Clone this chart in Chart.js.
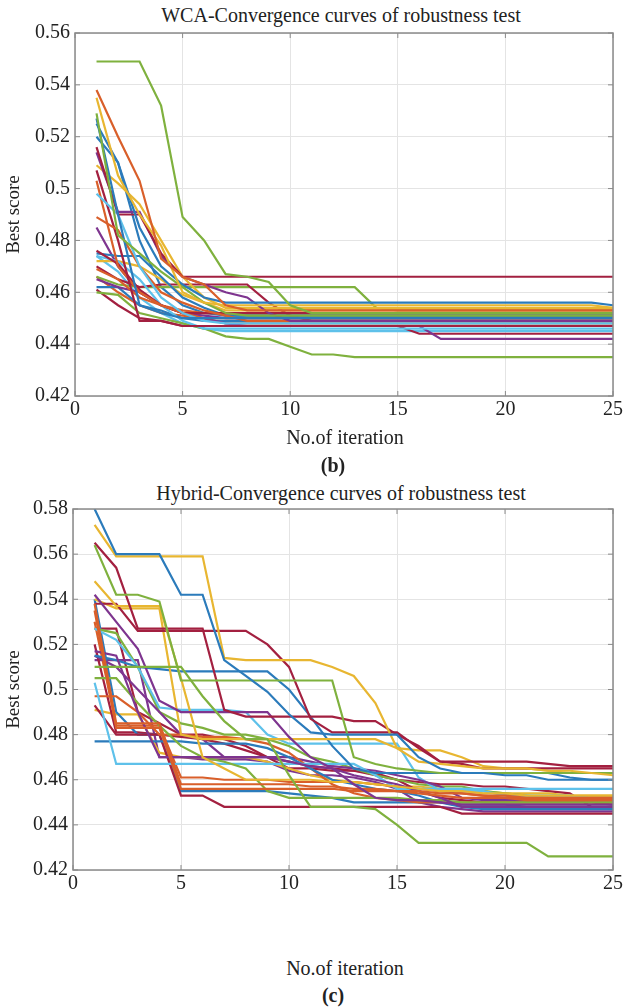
<!DOCTYPE html>
<html>
<head>
<meta charset="utf-8">
<script src="https://cdn.jsdelivr.net/npm/chart.js@4.4.1/dist/chart.umd.min.js"></script>
<style>
  html, body { margin: 0; padding: 0; background: #ffffff; }
  #page { position: relative; width: 625px; height: 1007px; background: #ffffff; overflow: hidden; }
  canvas { position: absolute; left: 0; }
  .lbl { position: absolute; font-family: "Liberation Serif", "Times New Roman", serif; color: #222; white-space: nowrap; transform: translate(-50%, -50%); font-size: 20px; }
  .bold { font-weight: bold; }
</style>
</head>
<body>
<div id="page">
  <div class="lbl" style="left:341px; top:15px;">WCA-Convergence curves of robustness test</div>
  <canvas id="wca" width="625" height="432" style="top:0px;"></canvas>
  <div class="lbl" style="left:345px; top:437px;">No.of iteration</div>
  <div class="lbl bold" style="left:333px; top:465px;">(b)</div>

  <div class="lbl" style="left:341px; top:493px;">Hybrid-Convergence curves of robustness test</div>
  <canvas id="hybrid" width="625" height="432" style="top:476px;"></canvas>
  <div class="lbl" style="left:345px; top:968px;">No.of iteration</div>
  <div class="lbl bold" style="left:333px; top:995px;">(c)</div>
</div>
<script>
// ---------------- DATA ----------------
const iterations = [1,2,3,4,5,6,7,8,9,10,11,12,13,14,15,16,17,18,19,20,21,22,23,24,25];
const xTickLabels = ['0','5','10','15','20','25'];
const wcaYTickLabels = ['0.42','0.44','0.46','0.48','0.5','0.52','0.54','0.56'];
const hybridYTickLabels = ['0.42','0.44','0.46','0.48','0.5','0.52','0.54','0.56','0.58'];

const wcaCurves = [
  [0.549,0.549,0.549,0.532,0.489,0.480,0.467,0.466,0.464,0.455,0.452,0.452,0.452,0.452,0.452,0.452,0.452,0.452,0.452,0.452,0.452,0.452,0.452,0.452,0.452],
  [0.538,0.520,0.503,0.473,0.466,0.463,0.455,0.453,0.453,0.453,0.453,0.453,0.453,0.453,0.453,0.453,0.453,0.453,0.453,0.453,0.453,0.453,0.453,0.453,0.453],
  [0.535,0.505,0.490,0.478,0.460,0.456,0.455,0.455,0.455,0.455,0.455,0.455,0.455,0.455,0.455,0.455,0.455,0.455,0.455,0.455,0.455,0.455,0.455,0.455,0.454],
  [0.529,0.482,0.475,0.468,0.462,0.456,0.452,0.451,0.451,0.451,0.451,0.451,0.451,0.451,0.451,0.451,0.451,0.451,0.451,0.451,0.451,0.451,0.451,0.451,0.451],
  [0.527,0.490,0.455,0.452,0.450,0.450,0.450,0.450,0.450,0.450,0.450,0.450,0.450,0.450,0.450,0.450,0.450,0.450,0.450,0.450,0.450,0.450,0.450,0.450,0.450],
  [0.525,0.510,0.485,0.470,0.463,0.458,0.456,0.456,0.456,0.456,0.456,0.456,0.456,0.456,0.456,0.456,0.456,0.456,0.456,0.456,0.456,0.456,0.456,0.456,0.455],
  [0.516,0.490,0.490,0.475,0.466,0.466,0.466,0.466,0.466,0.466,0.466,0.466,0.466,0.466,0.466,0.466,0.466,0.466,0.466,0.466,0.466,0.466,0.466,0.466,0.466],
  [0.514,0.491,0.491,0.474,0.466,0.463,0.460,0.458,0.452,0.449,0.449,0.449,0.449,0.449,0.449,0.449,0.449,0.449,0.449,0.449,0.449,0.449,0.449,0.449,0.449],
  [0.498,0.490,0.470,0.458,0.452,0.449,0.448,0.448,0.448,0.448,0.448,0.448,0.448,0.448,0.448,0.448,0.448,0.448,0.448,0.448,0.448,0.448,0.448,0.448,0.448],
  [0.489,0.484,0.470,0.460,0.456,0.453,0.451,0.449,0.449,0.449,0.449,0.449,0.449,0.449,0.449,0.449,0.449,0.449,0.449,0.449,0.449,0.449,0.449,0.449,0.449],
  [0.509,0.502,0.494,0.480,0.466,0.458,0.454,0.454,0.454,0.454,0.454,0.454,0.454,0.454,0.454,0.454,0.454,0.454,0.454,0.454,0.454,0.454,0.454,0.454,0.454],
  [0.507,0.480,0.449,0.449,0.447,0.447,0.447,0.447,0.447,0.447,0.447,0.447,0.447,0.447,0.447,0.447,0.447,0.447,0.447,0.447,0.447,0.447,0.447,0.447,0.447],
  [0.503,0.470,0.460,0.455,0.452,0.450,0.450,0.450,0.450,0.450,0.450,0.450,0.450,0.450,0.450,0.450,0.450,0.450,0.450,0.450,0.450,0.450,0.450,0.450,0.450],
  [0.476,0.471,0.461,0.455,0.452,0.452,0.452,0.452,0.452,0.452,0.452,0.452,0.452,0.452,0.452,0.452,0.452,0.452,0.452,0.452,0.452,0.452,0.452,0.452,0.452],
  [0.475,0.474,0.474,0.466,0.458,0.454,0.451,0.451,0.451,0.451,0.451,0.451,0.451,0.451,0.451,0.451,0.451,0.451,0.451,0.451,0.451,0.451,0.451,0.451,0.451],
  [0.474,0.472,0.465,0.455,0.449,0.446,0.446,0.446,0.446,0.446,0.446,0.446,0.446,0.446,0.446,0.446,0.446,0.446,0.446,0.446,0.446,0.446,0.446,0.446,0.446],
  [0.472,0.472,0.470,0.465,0.459,0.456,0.453,0.453,0.453,0.453,0.453,0.453,0.453,0.453,0.453,0.453,0.453,0.453,0.453,0.453,0.453,0.453,0.453,0.453,0.453],
  [0.469,0.465,0.458,0.455,0.453,0.452,0.452,0.452,0.452,0.452,0.452,0.452,0.452,0.452,0.452,0.452,0.452,0.452,0.452,0.452,0.452,0.452,0.452,0.452,0.452],
  [0.465,0.462,0.460,0.455,0.452,0.450,0.448,0.447,0.447,0.447,0.447,0.447,0.447,0.447,0.447,0.447,0.442,0.442,0.442,0.442,0.442,0.442,0.442,0.442,0.442],
  [0.462,0.462,0.455,0.453,0.450,0.449,0.449,0.449,0.449,0.449,0.449,0.449,0.449,0.449,0.449,0.449,0.449,0.449,0.449,0.449,0.449,0.449,0.449,0.449,0.449],
  [0.460,0.459,0.452,0.450,0.448,0.446,0.443,0.442,0.442,0.439,0.436,0.436,0.435,0.435,0.435,0.435,0.435,0.435,0.435,0.435,0.435,0.435,0.435,0.435,0.435],
  [0.461,0.455,0.450,0.449,0.447,0.447,0.447,0.447,0.447,0.447,0.447,0.447,0.447,0.447,0.447,0.444,0.444,0.444,0.444,0.444,0.444,0.444,0.444,0.444,0.444],
  [0.470,0.465,0.462,0.463,0.463,0.463,0.463,0.463,0.456,0.451,0.449,0.449,0.449,0.449,0.449,0.449,0.449,0.449,0.449,0.449,0.449,0.449,0.449,0.449,0.449],
  [0.466,0.463,0.462,0.462,0.462,0.462,0.462,0.462,0.462,0.462,0.462,0.462,0.462,0.454,0.453,0.453,0.453,0.453,0.453,0.453,0.453,0.453,0.453,0.453,0.453],
  [0.466,0.460,0.455,0.452,0.451,0.450,0.448,0.448,0.448,0.448,0.448,0.448,0.448,0.448,0.448,0.448,0.448,0.448,0.448,0.448,0.448,0.448,0.448,0.448,0.448],
  [0.520,0.510,0.480,0.462,0.455,0.452,0.451,0.451,0.451,0.451,0.451,0.451,0.451,0.451,0.451,0.451,0.451,0.451,0.451,0.451,0.451,0.451,0.451,0.451,0.451],
  [0.485,0.470,0.460,0.455,0.452,0.451,0.450,0.450,0.450,0.450,0.450,0.450,0.450,0.450,0.450,0.450,0.450,0.450,0.450,0.450,0.450,0.450,0.450,0.450,0.450],
  [0.474,0.468,0.458,0.452,0.448,0.446,0.445,0.445,0.445,0.445,0.445,0.445,0.445,0.445,0.445,0.445,0.445,0.445,0.445,0.445,0.445,0.445,0.445,0.445,0.445]
];
const wcaColors = ['g','o','y','g','b','b','r','p','c','o','y','r','o','r','b','c','y','o','p','b','g','r','r','g','o','b','p','c'];

const hybridCurves = [
  [0.580,0.560,0.560,0.560,0.542,0.542,0.513,0.506,0.499,0.489,0.481,0.480,0.480,0.480,0.480,0.470,0.465,0.463,0.463,0.462,0.462,0.460,0.460,0.460,0.460],
  [0.573,0.559,0.559,0.559,0.559,0.559,0.514,0.513,0.513,0.513,0.513,0.510,0.506,0.494,0.474,0.468,0.467,0.466,0.465,0.465,0.465,0.464,0.464,0.463,0.462],
  [0.564,0.542,0.542,0.539,0.504,0.504,0.504,0.504,0.504,0.504,0.504,0.504,0.470,0.467,0.465,0.464,0.463,0.463,0.463,0.463,0.463,0.463,0.463,0.463,0.463],
  [0.565,0.554,0.527,0.527,0.527,0.527,0.491,0.488,0.488,0.488,0.488,0.488,0.486,0.486,0.480,0.475,0.468,0.468,0.468,0.468,0.468,0.467,0.466,0.466,0.466],
  [0.510,0.510,0.510,0.510,0.510,0.497,0.486,0.478,0.478,0.462,0.448,0.448,0.448,0.447,0.440,0.432,0.432,0.432,0.432,0.432,0.432,0.426,0.426,0.426,0.426],
  [0.542,0.530,0.518,0.495,0.490,0.490,0.490,0.490,0.490,0.479,0.470,0.465,0.458,0.452,0.451,0.451,0.450,0.449,0.449,0.449,0.449,0.449,0.449,0.449,0.449],
  [0.538,0.485,0.485,0.485,0.458,0.458,0.458,0.458,0.458,0.458,0.457,0.457,0.456,0.456,0.455,0.454,0.453,0.452,0.452,0.452,0.451,0.451,0.451,0.451,0.451],
  [0.535,0.483,0.483,0.483,0.456,0.456,0.456,0.456,0.456,0.456,0.456,0.456,0.455,0.455,0.455,0.455,0.454,0.454,0.453,0.453,0.452,0.452,0.452,0.452,0.452],
  [0.548,0.537,0.537,0.537,0.505,0.470,0.465,0.460,0.460,0.460,0.460,0.459,0.459,0.458,0.457,0.456,0.455,0.455,0.454,0.454,0.453,0.453,0.453,0.453,0.453],
  [0.538,0.538,0.526,0.526,0.526,0.526,0.526,0.526,0.520,0.510,0.487,0.481,0.481,0.481,0.481,0.474,0.468,0.467,0.465,0.465,0.465,0.465,0.465,0.465,0.465],
  [0.540,0.536,0.536,0.536,0.480,0.478,0.478,0.478,0.478,0.478,0.478,0.478,0.478,0.478,0.474,0.473,0.473,0.470,0.466,0.465,0.465,0.464,0.463,0.463,0.463],
  [0.517,0.515,0.490,0.470,0.470,0.470,0.470,0.470,0.470,0.468,0.466,0.465,0.462,0.460,0.458,0.455,0.452,0.448,0.448,0.448,0.448,0.448,0.448,0.448,0.448],
  [0.515,0.513,0.510,0.509,0.508,0.508,0.508,0.508,0.508,0.500,0.488,0.475,0.465,0.463,0.463,0.463,0.463,0.463,0.463,0.463,0.463,0.463,0.461,0.460,0.460],
  [0.505,0.505,0.494,0.484,0.475,0.470,0.468,0.465,0.455,0.452,0.452,0.452,0.452,0.452,0.452,0.451,0.451,0.450,0.450,0.450,0.450,0.450,0.450,0.450,0.450],
  [0.503,0.467,0.467,0.467,0.467,0.467,0.467,0.467,0.467,0.467,0.467,0.467,0.467,0.462,0.456,0.456,0.456,0.456,0.456,0.456,0.456,0.456,0.456,0.456,0.456],
  [0.477,0.477,0.477,0.477,0.477,0.476,0.476,0.476,0.474,0.470,0.465,0.460,0.458,0.456,0.455,0.453,0.450,0.448,0.447,0.447,0.447,0.447,0.447,0.447,0.447],
  [0.497,0.497,0.490,0.480,0.480,0.479,0.479,0.478,0.476,0.472,0.465,0.458,0.454,0.452,0.451,0.450,0.450,0.450,0.450,0.450,0.450,0.450,0.450,0.450,0.450],
  [0.493,0.480,0.480,0.480,0.453,0.453,0.448,0.448,0.448,0.448,0.448,0.448,0.448,0.448,0.448,0.448,0.448,0.445,0.445,0.445,0.445,0.445,0.445,0.445,0.445],
  [0.515,0.510,0.500,0.490,0.480,0.478,0.470,0.470,0.470,0.470,0.468,0.466,0.465,0.464,0.462,0.460,0.457,0.452,0.451,0.451,0.451,0.451,0.451,0.451,0.451],
  [0.527,0.522,0.510,0.492,0.491,0.491,0.491,0.490,0.480,0.476,0.476,0.476,0.476,0.476,0.476,0.461,0.455,0.455,0.455,0.453,0.453,0.453,0.453,0.452,0.452],
  [0.530,0.484,0.484,0.484,0.461,0.461,0.460,0.460,0.460,0.459,0.459,0.459,0.459,0.458,0.457,0.456,0.455,0.454,0.453,0.452,0.452,0.452,0.452,0.452,0.452],
  [0.527,0.525,0.510,0.490,0.485,0.483,0.480,0.480,0.478,0.475,0.470,0.468,0.465,0.462,0.460,0.458,0.457,0.457,0.455,0.454,0.453,0.452,0.451,0.451,0.451],
  [0.540,0.490,0.480,0.480,0.455,0.455,0.455,0.455,0.455,0.454,0.453,0.452,0.450,0.450,0.450,0.450,0.450,0.449,0.449,0.449,0.448,0.448,0.448,0.448,0.448],
  [0.520,0.481,0.481,0.480,0.479,0.478,0.476,0.473,0.470,0.468,0.466,0.465,0.464,0.463,0.460,0.455,0.452,0.451,0.450,0.450,0.450,0.450,0.450,0.450,0.449],
  [0.491,0.489,0.489,0.472,0.470,0.470,0.470,0.470,0.468,0.465,0.462,0.460,0.459,0.458,0.457,0.457,0.456,0.455,0.455,0.454,0.454,0.454,0.453,0.453,0.453],
  [0.513,0.513,0.513,0.470,0.470,0.469,0.469,0.469,0.468,0.464,0.462,0.462,0.461,0.459,0.456,0.450,0.448,0.447,0.446,0.446,0.446,0.446,0.446,0.446,0.446],
  [0.527,0.527,0.490,0.485,0.480,0.480,0.478,0.475,0.470,0.465,0.465,0.464,0.464,0.462,0.460,0.459,0.458,0.458,0.457,0.457,0.456,0.455,0.454,0.448,0.447]
];
const hybridColors = ['b','y','g','r','g','p','o','o','y','r','y','p','b','g','c','b','o','r','p','c','o','g','b','r','y','p','r'];

// ---------------- STYLE ----------------
const palette = { b:'#2b7bbb', o:'#d95f2a', y:'#e8b631', p:'#7e358f', g:'#7fb13e', c:'#5ec1ea', r:'#a32040' };
const FONT = 'Liberation Serif';
Chart.defaults.font.family = FONT;
Chart.defaults.color = '#222';

const boxPlugin = {
  id: 'box',
  afterDatasetsDraw(chart) {
    const a = chart.chartArea, ctx = chart.ctx;
    ctx.save();
    ctx.strokeStyle = '#8a8a8a';
    ctx.lineWidth = 1.5;
    ctx.strokeRect(a.left, a.top, a.right - a.left, a.bottom - a.top);
    ctx.lineWidth = 1;
    const xs = chart.scales.x, ys = chart.scales.y;
    xs.ticks.forEach(t => {
      const px = xs.getPixelForValue(t.value);
      ctx.beginPath(); ctx.moveTo(px, a.bottom); ctx.lineTo(px, a.bottom - 5); ctx.stroke();
      ctx.beginPath(); ctx.moveTo(px, a.top); ctx.lineTo(px, a.top + 5); ctx.stroke();
    });
    ys.ticks.forEach(t => {
      const py = ys.getPixelForValue(t.value);
      ctx.beginPath(); ctx.moveTo(a.left, py); ctx.lineTo(a.left + 5, py); ctx.stroke();
      ctx.beginPath(); ctx.moveTo(a.right, py); ctx.lineTo(a.right - 5, py); ctx.stroke();
    });
    ctx.restore();
  }
};

function makeChart(id, curves, colors, yMin, yMax, yLabels, yAxisWidth, xAxisHeight) {
  const datasets = curves.map((vals, i) => ({
    data: iterations.map((it, k) => ({ x: it, y: vals[k] })),
    borderColor: palette[colors[i]],
    borderWidth: 2.2,
    pointRadius: 0,
    tension: 0,
    fill: false
  }));
  return new Chart(document.getElementById(id), {
    type: 'line',
    data: { datasets },
    plugins: [boxPlugin],
    options: {
      responsive: false,
      animation: false,
      layout: { padding: { top: 33, right: 4, left: 0, bottom: 0 } },
      plugins: { legend: { display: false }, tooltip: { enabled: false }, title: { display: false } },
      scales: {
        x: {
          type: 'linear', min: 0, max: 25,
          ticks: { stepSize: 5, padding: 2, color: '#222', font: { family: FONT, size: 20 },
                   callback: (v, i) => xTickLabels[i], maxRotation: 0 },
          grid: { color: '#e4e4e4', lineWidth: 1, drawTicks: false },
          border: { display: false },
          afterFit: s => { s.height = xAxisHeight; }
        },
        y: {
          type: 'linear', min: yMin, max: yMax,
          ticks: { stepSize: 0.02, padding: 5, color: '#222', font: { family: FONT, size: 20 },
                   callback: (v, i) => yLabels[i] },
          grid: { color: '#e4e4e4', lineWidth: 1, drawTicks: false },
          border: { display: false },
          title: { display: true, text: 'Best score', color: '#222', font: { family: FONT, size: 19 }, padding: { top: 3, bottom: 0 } },
          afterFit: s => { s.width = yAxisWidth; }
        }
      }
    }
  });
}

makeChart('wca', wcaCurves, wcaColors, 0.42, 0.56, wcaYTickLabels, 75, 36);
makeChart('hybrid', hybridCurves, hybridColors, 0.42, 0.58, hybridYTickLabels, 73, 38);
</script>
</body>
</html>
